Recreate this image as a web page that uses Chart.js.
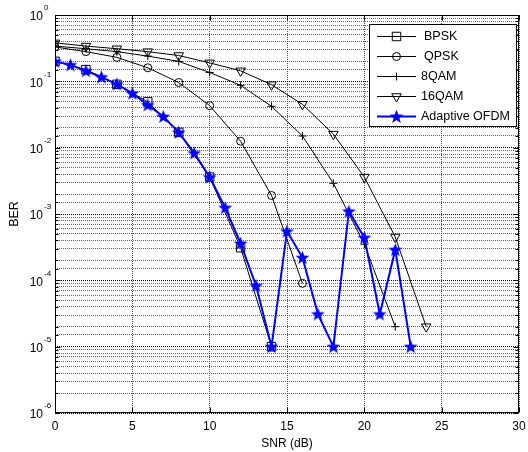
<!DOCTYPE html>
<html>
<head>
<meta charset="utf-8">
<script src="https://cdn.jsdelivr.net/npm/chart.js@4.4.0/dist/chart.umd.min.js"></script>
<style>
  html, body { margin: 0; padding: 0; background: #fff; }
</style>
</head>
<body>
<canvas id="berChart" width="528" height="452"></canvas>
<script>
// values
const bpskSnr = [0, 2, 4, 6, 8, 10, 12, 14];
const bpskBer = [0.2, 0.15, 0.09, 0.049, 0.017, 0.0036, 0.00031, 0.00001];

const qpskSnr = [0, 2, 4, 6, 8, 10, 12, 14, 16];
const qpskBer = [0.33, 0.28, 0.23, 0.16, 0.096, 0.043, 0.0125, 0.0019, 0.00009];

const qam8Snr = [0, 2, 4, 6, 8, 10, 12, 14, 16, 18, 20, 22];
const qam8Ber = [0.34, 0.31, 0.28, 0.24, 0.2, 0.136, 0.087, 0.042, 0.015, 0.0029, 0.00035, 0.00002];

const qam16Snr = [0, 2, 4, 6, 8, 10, 12, 14, 16, 18, 20, 22, 24];
const qam16Ber = [0.38, 0.34, 0.31, 0.28, 0.245, 0.19, 0.144, 0.089, 0.045, 0.016, 0.0036, 0.00045, 0.00002];

const adaptiveSnr = [0, 1, 2, 3, 4, 5, 6, 7, 8, 9, 10, 11, 12, 13, 14, 15, 16, 17, 18, 19, 20, 21, 22, 23];
const adaptiveBer = [0.2, 0.177, 0.144, 0.116, 0.091, 0.066, 0.044, 0.0295, 0.017, 0.0083, 0.0036, 0.00125,
  0.00036, 0.000083, 0.00001, 0.00055, 0.00022, 0.000031, 0.00001, 0.0011, 0.00044, 0.000031, 0.00029, 0.00001];

const seriesLabels = ["BPSK", "QPSK", "8QAM", "16QAM", "Adaptive OFDM"];
const xTickStep = 5;
const yDecades = [0, -1, -2, -3, -4, -5, -6];

const FONT = "'Liberation Sans', Arial, sans-serif";

function pts(xs, ys) {
  return xs.map((x, i) => ({ x: x, y: ys[i] }));
}

// filled five point star for the adaptive curve
function makeStar(size, color) {
  const c = document.createElement("canvas");
  c.width = size;
  c.height = size;
  const g = c.getContext("2d");
  const cx = size / 2, cy = size / 2 + 0.5;
  const ro = size / 2 - 0.2, ri = ro * 0.42;
  g.beginPath();
  for (let i = 0; i < 10; i++) {
    const r = i % 2 === 0 ? ro : ri;
    const a = -Math.PI / 2 + i * Math.PI / 5;
    g.lineTo(cx + r * Math.cos(a), cy + r * Math.sin(a));
  }
  g.closePath();
  g.fillStyle = color;
  g.fill();
  return c;
}
const starImg = makeStar(15, "#0000ff");

function blackSeries(label, xs, ys, style, radius, rotation) {
  return {
    label: label,
    data: pts(xs, ys),
    borderColor: "#000",
    borderWidth: 1,
    pointStyle: style,
    pointRadius: radius,
    pointRotation: rotation || 0,
    pointBorderColor: "#000",
    pointBackgroundColor: "rgba(0,0,0,0)",
    pointBorderWidth: 1,
    order: 1
  };
}

const datasets = [
  blackSeries(seriesLabels[0], bpskSnr, bpskBer, "rect", 6),
  blackSeries(seriesLabels[1], qpskSnr, qpskBer, "circle", 4),
  blackSeries(seriesLabels[2], qam8Snr, qam8Ber, "cross", 4),
  blackSeries(seriesLabels[3], qam16Snr, qam16Ber, "triangle", 5.5, 180),
  {
    label: seriesLabels[4],
    data: pts(adaptiveSnr, adaptiveBer),
    borderColor: "#0000ff",
    borderWidth: 2,
    pointStyle: starImg,
    pointRadius: 7,
    order: 0
  }
];

const frame = {
  id: "frame",
  afterDraw(chart) {
    const ctx = chart.ctx;
    const a = chart.chartArea;
    const xs = chart.scales.x, ys = chart.scales.y;
    const L = Math.round(a.left) + 0.5, R = Math.round(a.right) - 0.5;
    const T = Math.round(a.top) + 0.5, B = Math.round(a.bottom) - 0.5;
    ctx.save();
    ctx.strokeStyle = "#000";
    ctx.lineWidth = 1;

    // inner tick marks
    ctx.beginPath();
    xs.ticks.forEach(t => {
      const px = Math.round(xs.getPixelForValue(t.value)) + 0.5;
      ctx.moveTo(px, B); ctx.lineTo(px, B - 5);
      ctx.moveTo(px, T); ctx.lineTo(px, T + 5);
    });
    ys.ticks.forEach(t => {
      const py = Math.round(ys.getPixelForValue(t.value)) + 0.5;
      const major = Math.abs(Math.log10(t.value) - Math.round(Math.log10(t.value))) < 1e-6;
      const len = major ? 5 : 3;
      ctx.moveTo(L, py); ctx.lineTo(L + len, py);
      ctx.moveTo(R, py); ctx.lineTo(R - len, py);
    });
    ctx.stroke();

    ctx.strokeRect(L, T, R - L, B - T);

    // y tick labels as 10 with a raised exponent
    ctx.fillStyle = "#000";
    yDecades.forEach(e => {
      const py = ys.getPixelForValue(Math.pow(10, e));
      ctx.font = "12px " + FONT;
      ctx.textAlign = "right";
      ctx.textBaseline = "middle";
      ctx.fillText("10", a.left - 12, py + 2);
      ctx.font = "8px " + FONT;
      ctx.textAlign = "left";
      ctx.fillText(String(e), a.left - 11, py - 7);
    });

    // legend box
    const bx = 369.5, by = 24.5, bw = 147, bh = 102;
    ctx.fillStyle = "#fff";
    ctx.fillRect(bx, by, bw, bh);
    ctx.strokeStyle = "#000";
    ctx.strokeRect(bx, by, bw, bh);
    chart.data.datasets.forEach((ds, i) => {
      const ly = 36 + i * 20;
      ctx.strokeStyle = ds.borderColor;
      ctx.lineWidth = ds.borderWidth;
      ctx.beginPath();
      ctx.moveTo(377, ly + 0.5); ctx.lineTo(416, ly + 0.5);
      ctx.stroke();
      ctx.lineWidth = 1;
      ctx.strokeStyle = "#000";
      ctx.fillStyle = "rgba(0,0,0,0)";
      Chart.helpers.drawPoint(ctx, {
        pointStyle: ds.pointStyle,
        radius: ds.pointRadius,
        rotation: ds.pointRotation || 0,
        borderWidth: 1
      }, 396.5, ly + 0.5);
      ctx.fillStyle = "#000";
      ctx.font = "12.5px " + FONT;
      ctx.textAlign = "left";
      ctx.textBaseline = "middle";
      ctx.fillText(ds.label, i < 2 ? 424 : 421, ly + 1);
    });
    ctx.restore();
  }
};

new Chart(document.getElementById("berChart"), {
  type: "line",
  data: { datasets: datasets },
  options: {
    responsive: false,
    animation: false,
    devicePixelRatio: 1,
    // right padding is negative to cancel the space chart.js keeps for the last x label
    layout: { padding: { left: 0, right: -2, top: 15, bottom: 0 } },
    plugins: { legend: { display: false }, tooltip: { enabled: false } },
    scales: {
      x: {
        type: "linear",
        min: 0,
        max: 30,
        afterFit(s) { s.height = 39; s.paddingLeft = 0; s.paddingRight = 0; },
        ticks: { stepSize: xTickStep, color: "#000", font: { family: FONT, size: 12 }, padding: 6 },
        grid: { color: "#555", drawTicks: false },
        border: { display: false, dash: [1, 1] },
        title: { display: true, text: "SNR (dB)", color: "#000", font: { family: FONT, size: 12 }, padding: { top: 0, bottom: 1 } }
      },
      y: {
        type: "logarithmic",
        min: 1e-6,
        max: 1,
        afterFit(s) { s.width = 55; s.paddingTop = 0; s.paddingBottom = 0; },
        ticks: { display: false },
        grid: {
          drawTicks: false,
          color: ctx => {
            const v = ctx.tick ? ctx.tick.value : 1;
            const lg = Math.log10(v);
            return Math.abs(lg - Math.round(lg)) < 1e-6 ? "#000" : "#666";
          }
        },
        border: { display: false, dash: [1, 1] },
        title: { display: true, text: "BER", color: "#000", font: { family: FONT, size: 12.5 }, padding: { top: 7, bottom: 0 } }
      }
    }
  },
  plugins: [frame]
});
</script>
</body>
</html>
